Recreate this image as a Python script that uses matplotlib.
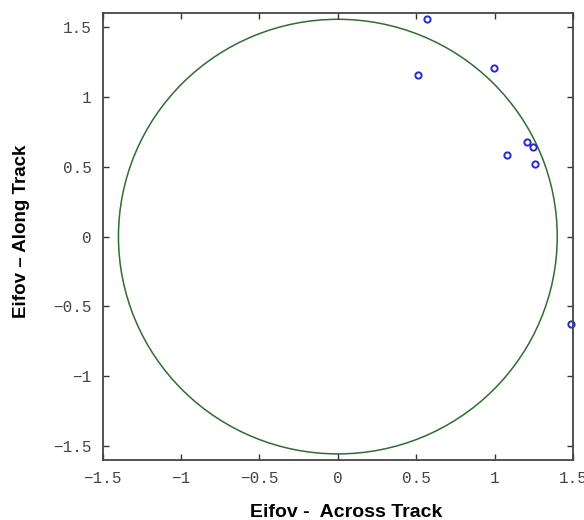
import matplotlib.pyplot as plt
import numpy as np
from matplotlib.patches import Ellipse
from matplotlib.ticker import FuncFormatter

plt.rcParams.update({'font.size': 11})

# eifov scatter points (across, along)
across = [0.57, 0.51, 0.996, 1.21, 1.245, 1.08, 1.26, 1.49]
along = [1.555, 1.155, 1.21, 0.675, 0.64, 0.585, 0.52, -0.625]

# boundary ellipse radii
rx, ry = 1.40, 1.555

xticks = [-1.5, -1, -0.5, 0, 0.5, 1, 1.5]
yticks = [-1.5, -1, -0.5, 0, 0.5, 1, 1.5]


def fmt(v, pos):
    s = '{:g}'.format(v)
    return s.replace('-', '\u2212')


fig = plt.figure(figsize=(5.84, 5.2), dpi=100)
ax = fig.add_axes([0.176, 0.115, 0.805, 0.86])

ax.add_patch(Ellipse((0, 0), 2 * rx, 2 * ry, fill=False,
                     edgecolor='#2f6e2f', linewidth=1.1))
ax.plot(across, along, 'o', markersize=4.5, markerfacecolor='none',
        markeredgecolor='#2828d8', markeredgewidth=1.4, clip_on=False)

ax.set_xlim(-1.5, 1.5)
ax.set_ylim(-1.6, 1.6)
ax.set_xticks(xticks)
ax.set_yticks(yticks)
ax.xaxis.set_major_formatter(FuncFormatter(fmt))
ax.yaxis.set_major_formatter(FuncFormatter(fmt))
ax.tick_params(direction='in', length=4, width=1, color='#333',
               top=True, right=True, labelcolor='#444', pad=8)
for lab in ax.get_xticklabels() + ax.get_yticklabels():
    lab.set_family('Liberation Mono')
    lab.set_fontsize(11.5)
for sp in ax.spines.values():
    sp.set_color('#444')
    sp.set_linewidth(1.3)

fig.text(0.593, 0.006, 'Eifov -  Across Track', ha='center', va='baseline',
         fontsize=14, fontweight='bold', family='Liberation Sans')
fig.text(0.037, 0.556, 'Eifov \u2013 Along Track', ha='center', va='center',
         rotation=90, fontsize=13.5, fontweight='bold', family='Liberation Sans')

fig.savefig('out.png', dpi=100)
